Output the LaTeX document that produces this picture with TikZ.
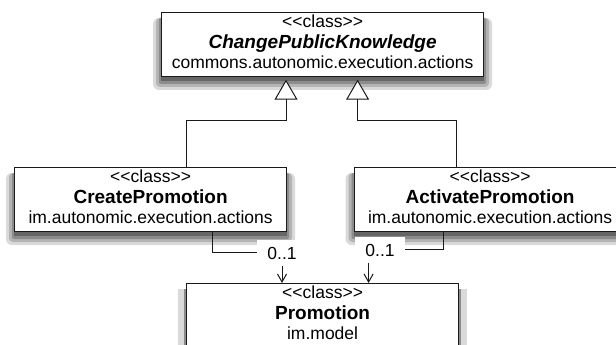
\documentclass[tikz,border=0pt]{standalone}
\usepackage{fontspec}
\setmainfont{Liberation Sans}[Ligatures=TeXOff]
\usetikzlibrary{arrows.meta}
\definecolor{umlLine}{HTML}{1A1A1A}
\definecolor{shadeA}{HTML}{DADADA}
\definecolor{shadeB}{HTML}{B4B4B4}
\definecolor{shadeC}{HTML}{8C8C8C}
\definecolor{shadeD}{HTML}{666666}
\def\stereo{<<class>>}
\def\cname#1{{\fontsize{19}{20.5}\selectfont\bfseries #1}}

\begin{document}
\begin{tikzpicture}[x=1pt,y=-1pt,
  umlclass/.style={draw=umlLine, line width=1.2pt, fill=white, anchor=north west,
    minimum width=272pt, minimum height=64pt, inner sep=0pt, align=center,
    text depth=5pt, font=\fontsize{17.5}{20.5}\selectfont},
  genline/.style={draw=umlLine, line width=1pt, shorten >=2.5pt,
    -{Triangle[length=20pt, width=23pt, fill=white]}},
  assoc/.style={draw=umlLine, line width=1pt, -{Straight Barb[length=8pt, width=9pt]}},
  mult/.style={fill=white, inner xsep=10pt, inner ysep=7pt, font=\fontsize{17.5}{20.5}\selectfont}]
\fill[white] (0,0) rectangle (616,345);
\useasboundingbox (0,0) rectangle (616,345);

% soft shadows, light to dark
\fill[shadeA, rounded corners=6pt] (153,18) rectangle (492,90);
\fill[shadeB, rounded corners=4pt] (156,18) rectangle (489,87);
\fill[shadeC, rounded corners=2pt] (159,18) rectangle (486,84);
\fill[shadeD] (161,18) rectangle (484,81);
\foreach \cx/\cw in {14/272, 353.5/272}{
  \fill[shadeA, rounded corners=6pt] (\cx-8,173) rectangle (\cx+\cw+9,245);
  \fill[shadeB, rounded corners=4pt] (\cx-5,173) rectangle (\cx+\cw+6,242);
  \fill[shadeC, rounded corners=2pt] (\cx-2,173) rectangle (\cx+\cw+3,239);
  \fill[shadeD] (\cx,173) rectangle (\cx+\cw+1,236);
}
\fill[shadeA] (178,289) rectangle (467,345);
\fill[shadeC] (184,289) rectangle (461,345);

% classes
\node[umlclass, minimum width=322pt] (top) at (161,12)
  {\stereo\\ \cname{\itshape ChangePublicKnowledge}\\ commons.autonomic.execution.actions};
\node[umlclass] (create) at (14,167)
  {\stereo\\ \cname{CreatePromotion}\\ im.autonomic.execution.actions};
\node[umlclass] (activate) at (353.5,167)
  {\stereo\\ \cname{ActivatePromotion}\\ im.autonomic.execution.actions};
\node[umlclass] (promo) at (186,283)
  {\stereo\\ \cname{Promotion}\\ im.model};

% generalization
\coordinate (bendL) at (186,120.7);
\coordinate (bendR) at (456,120.7);
\coordinate (tipL) at (286,0);
\coordinate (tipR) at (357.6,0);
\draw[genline] (create.north -| bendL) -- (bendL) -| (top.south -| tipL);
\draw[genline] (activate.north -| bendR) -- (bendR) -| (top.south -| tipR);

% associations
\coordinate (footL) at (212,0);
\coordinate (cornL) at (282,252.3);
\coordinate (footR) at (443,0);
\coordinate (cornR) at (368.6,249.3);
\draw[assoc] (create.south -| footL) |- (cornL) -- (promo.north -| cornL);
\draw[assoc] (activate.south -| footR) |- (cornR) -- (promo.north -| cornR);
\node[mult] (multL) at (282,253) {0..1};
\node[mult] (multR) at (380,250) {0..1};
\end{tikzpicture}
\end{document}
